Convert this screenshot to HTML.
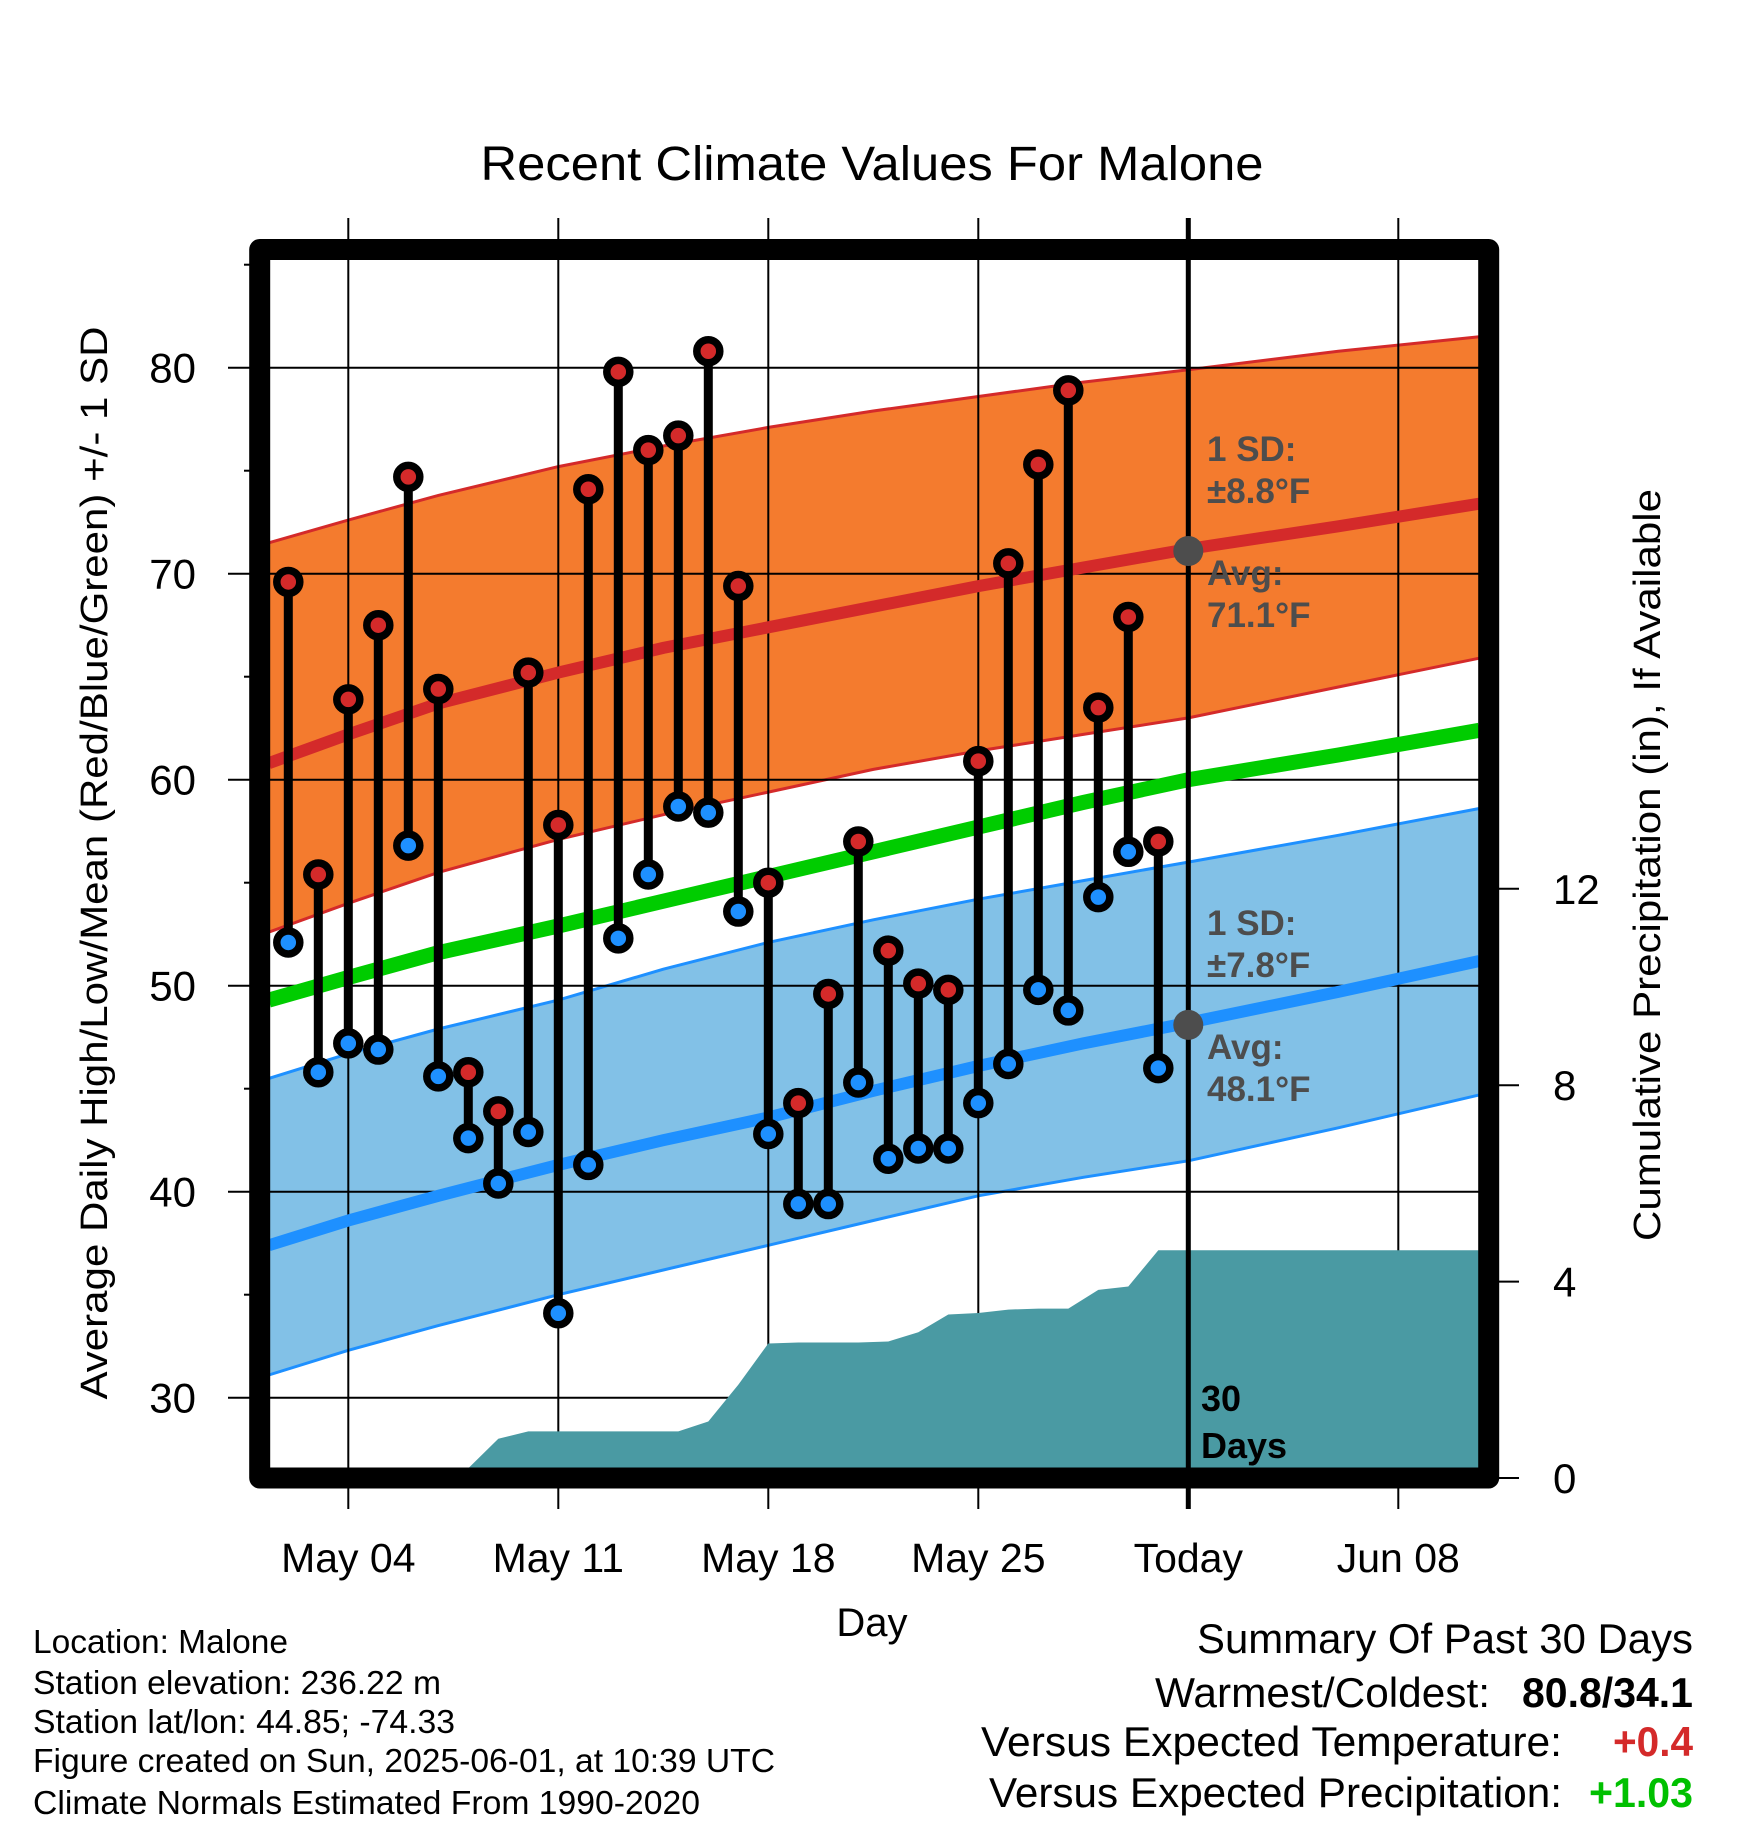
<!DOCTYPE html>
<html><head><meta charset="utf-8"><style>
html,body{margin:0;padding:0;background:#fff;}
svg{display:block;font-family:"Liberation Sans",Arial,sans-serif;}
</style></head><body>
<svg id="chart" width="1748" height="1828" viewBox="0 0 1748 1828" xmlns="http://www.w3.org/2000/svg">
<defs><clipPath id="plotclip"><rect x="260" y="250" width="1229" height="1228"/></clipPath></defs>
<rect width="1748" height="1828" fill="#fff"/>
<text x="872" y="180" font-size="48" text-anchor="middle" textLength="783" lengthAdjust="spacingAndGlyphs">Recent Climate Values For Malone</text>
<g id="bandsG" clip-path="url(#plotclip)"></g>
<g id="gridG"></g>
<g id="linesG" clip-path="url(#plotclip)"></g>
<g id="topG"></g>
<text transform="translate(107,863) rotate(-90)" font-size="38" text-anchor="middle" textLength="1073" lengthAdjust="spacingAndGlyphs">Average Daily High/Low/Mean (Red/Blue/Green) +/- 1 SD</text>
<text transform="translate(1660,865) rotate(-90)" font-size="38" text-anchor="middle" textLength="752" lengthAdjust="spacingAndGlyphs">Cumulative Precipitation (in), If Available</text>
<text x="872" y="1636" font-size="40" text-anchor="middle">Day</text>
<g font-size="33" fill="#000">
<text x="33" y="1653" textLength="255" lengthAdjust="spacingAndGlyphs">Location: Malone</text>
<text x="33" y="1694" textLength="408" lengthAdjust="spacingAndGlyphs">Station elevation: 236.22 m</text>
<text x="33" y="1733" textLength="422" lengthAdjust="spacingAndGlyphs">Station lat/lon: 44.85; -74.33</text>
<text x="33" y="1772" textLength="742" lengthAdjust="spacingAndGlyphs">Figure created on Sun, 2025-06-01, at 10:39 UTC</text>
<text x="33" y="1814" textLength="667" lengthAdjust="spacingAndGlyphs">Climate Normals Estimated From 1990-2020</text>
</g>
<g font-size="42" fill="#000">
<text x="1197" y="1653" textLength="496" lengthAdjust="spacingAndGlyphs">Summary Of Past 30 Days</text>
<text x="1155" y="1707" textLength="335" lengthAdjust="spacingAndGlyphs">Warmest/Coldest:</text>
<text x="1522" y="1707" font-weight="bold" textLength="171" lengthAdjust="spacingAndGlyphs">80.8/34.1</text>
<text x="981" y="1756" textLength="581" lengthAdjust="spacingAndGlyphs">Versus Expected Temperature:</text>
<text x="1613" y="1756" font-weight="bold" fill="#d42a2a" textLength="80" lengthAdjust="spacingAndGlyphs">+0.4</text>
<text x="989" y="1807" textLength="573" lengthAdjust="spacingAndGlyphs">Versus Expected Precipitation:</text>
<text x="1589" y="1807" font-weight="bold" fill="#00c000" textLength="104" lengthAdjust="spacingAndGlyphs">+1.03</text>
</g>
</svg>
<script>
const days = [2,3,4,5,6,7,8,9,10,11,12,13,14,15,16,17,18,19,20,21,22,23,24,25,26,27,28,29,30,31];
const highs = [69.6,55.4,63.9,67.5,74.7,64.4,45.8,43.9,65.2,57.8,74.1,79.8,76.0,76.7,80.8,69.4,55.0,44.3,49.6,57.0,51.7,50.1,49.8,60.9,70.5,75.3,78.9,63.5,67.9,57.0];
const lows = [52.1,45.8,47.2,46.9,56.8,45.6,42.6,40.4,42.9,34.1,41.3,52.3,55.4,58.7,58.4,53.6,42.8,39.4,39.4,45.3,41.6,42.1,42.1,44.3,46.2,49.8,48.8,54.3,56.5,46.0];
const precipDays = [1,2,3,4,5,6,7,8,9,10,11,12,13,14,15,16,17,18,19,20,21,22,23,24,25,26,27,28,29,30,31,42];
const precipCum = [0,0,0,0,0,0,0,0.2,0.8,0.95,0.95,0.95,0.95,0.95,0.95,1.15,1.9,2.74,2.76,2.76,2.76,2.78,2.97,3.33,3.36,3.43,3.45,3.45,3.83,3.9,4.64,4.64];
const normDays = [1.35,4,7,11,14.5,18,21.5,25,28.5,32,37,41.7];
const highUpper = [71.5,72.6,73.8,75.2,76.2,77.1,77.9,78.6,79.3,79.9,80.8,81.5];
const highAvg = [60.8,62.2,63.7,65.2,66.4,67.4,68.4,69.4,70.3,71.2,72.3,73.4];
const highLower = [52.6,54.0,55.5,57.1,58.3,59.4,60.5,61.4,62.2,63.0,64.5,65.9];
const meanAvg = [49.3,50.4,51.6,52.9,54.1,55.3,56.5,57.7,58.9,60.0,61.2,62.4];
const lowUpper = [45.5,46.7,47.9,49.3,50.8,52.1,53.2,54.2,55.1,56.0,57.3,58.6];
const lowAvg = [37.4,38.6,39.8,41.3,42.5,43.6,44.9,46.1,47.2,48.2,49.7,51.2];
const lowLower = [31.1,32.3,33.5,35.0,36.2,37.4,38.6,39.8,40.7,41.5,43.1,44.7];
const yTicks = [30,40,50,60,70,80];
const yMinor = [35,45,55,65,75,85];
const pTicks = [0,4,8,12];
const xTickDays = [4,11,18,25,32,39];
const xTickLabels = ["May 04","May 11","May 18","May 25","Today","Jun 08"];

const NS="http://www.w3.org/2000/svg";
const X = d => 348.3 + (d-4)*30;
const Y = t => 367.7 + (80-t)*20.6;
const YP = p => 1478 - p*49.1;
const bandsG=document.getElementById('bandsG'), gridG=document.getElementById('gridG'), linesG=document.getElementById('linesG'), topG=document.getElementById('topG');
function mk(tag, attrs, parent){const el=document.createElementNS(NS,tag);for(const k in attrs)el.setAttribute(k,attrs[k]);parent.appendChild(el);return el;}
function linePts(ds, vs){return ds.map((d,i)=>X(d).toFixed(1)+','+Y(vs[i]).toFixed(1));}
function bandPath(up, lo){const a=linePts(normDays,up), b=linePts(normDays,lo).reverse();return 'M'+a.join('L')+'L'+b.join('L')+'Z';}
let e;
e=mk('path',{d:bandPath(highUpper,highLower),fill:'#f47b2e'},bandsG);


e=mk('path',{d:bandPath(lowUpper,lowLower),fill:'#82c1e7'},bandsG);


[[highUpper,'#d42a2a'],[highLower,'#d42a2a'],[lowUpper,'#1e90ff'],[lowLower,'#1e90ff']].forEach(([v,c])=>{
  const l=mk('polyline',{points:linePts(normDays,v).join(' '),fill:'none',stroke:c,'stroke-width':3},bandsG);
  
  
});
yTicks.forEach(t=>{
  e=mk('line',{x1:228,x2:1489,y1:Y(t),y2:Y(t),stroke:'#000','stroke-width':2},gridG);
  
  
});
xTickDays.forEach((d,i)=>{
  if(i===4) return;
  e=mk('line',{x1:X(d),x2:X(d),y1:218,y2:1509,stroke:'#000','stroke-width':2},gridG);
  
  
});
e=mk('polyline',{points:linePts(normDays,meanAvg).join(' '),fill:'none',stroke:'#00cc00','stroke-width':15},linesG);


e=mk('polyline',{points:linePts(normDays,highAvg).join(' '),fill:'none',stroke:'#d42a2a','stroke-width':12},linesG);


e=mk('polyline',{points:linePts(normDays,lowAvg).join(' '),fill:'none',stroke:'#1e90ff','stroke-width':12},linesG);


let pd='M'+X(1)+','+YP(0);
precipDays.forEach((dd,i)=>{ pd+='L'+X(Math.min(dd,41.8)).toFixed(1)+','+YP(precipCum[i]).toFixed(1); });
pd+='L'+X(41.8)+','+YP(0)+'Z';
e=mk('path',{d:pd,fill:'#4a9aa3'},linesG);



e=mk('line',{x1:X(32),x2:X(32),y1:218,y2:1509,stroke:'#000','stroke-width':5},topG);


e=mk('circle',{cx:X(32),cy:Y(71.1),r:15,fill:'#4d4d4d'},topG);


e=mk('circle',{cx:X(32),cy:Y(48.1),r:15,fill:'#4d4d4d'},topG);


const labs=[["1 SD:",461],["\u00b18.8\u00b0F",503],["Avg:",585],["71.1\u00b0F",627],["1 SD:",935],["\u00b17.8\u00b0F",977],["Avg:",1059],["48.1\u00b0F",1101]];
labs.forEach(([t,y])=>{
  e=mk('text',{x:1207,y:y,'font-size':35,'font-weight':'bold',fill:'#4d4d4d'},topG);
  e.textContent=t;
  
  
});
e=mk('text',{x:1201,y:1411,'font-size':36,'font-weight':'bold',fill:'#000'},topG);
e.textContent='30';


e=mk('text',{x:1201,y:1458,'font-size':36,'font-weight':'bold',fill:'#000'},topG);
e.textContent='Days';


days.forEach((dd,i)=>{
  e=mk('line',{x1:X(dd),x2:X(dd),y1:Y(highs[i]),y2:Y(lows[i]),stroke:'#000','stroke-width':9},topG);
  
  
});
days.forEach((dd,i)=>{
  e=mk('circle',{cx:X(dd),cy:Y(highs[i]),r:11.5,fill:'#d42a2a',stroke:'#000','stroke-width':7.5},topG);
  
  
  e=mk('circle',{cx:X(dd),cy:Y(lows[i]),r:11.5,fill:'#1e90ff',stroke:'#000','stroke-width':7.5},topG);
  
  
});
e=mk('rect',{x:259.7,y:249.5,width:1229,height:1228.5,fill:'none',stroke:'#000','stroke-width':21,'stroke-linejoin':'round'},topG);


yTicks.forEach(t=>{
  e=mk('text',{x:196,y:Y(t)+15,'font-size':42,'text-anchor':'end'},topG);
  e.textContent=t;
  
  
});
yMinor.forEach(t=>{
  e=mk('line',{x1:244,x2:260,y1:Y(t),y2:Y(t),stroke:'#000','stroke-width':2},topG);
  
  
});
pTicks.forEach(p=>{
  e=mk('line',{x1:1489,x2:1519,y1:YP(p),y2:YP(p),stroke:'#000','stroke-width':2},topG);
  
  
  e=mk('text',{x:1553,y:YP(p)+15,'font-size':42},topG);
  e.textContent=p;
  
  
});
xTickDays.forEach((dd,i)=>{
  e=mk('text',{x:X(dd),y:1572,'font-size':41,'text-anchor':'middle'},topG);
  e.textContent=xTickLabels[i];
  
  
});
</script>
</body></html>
